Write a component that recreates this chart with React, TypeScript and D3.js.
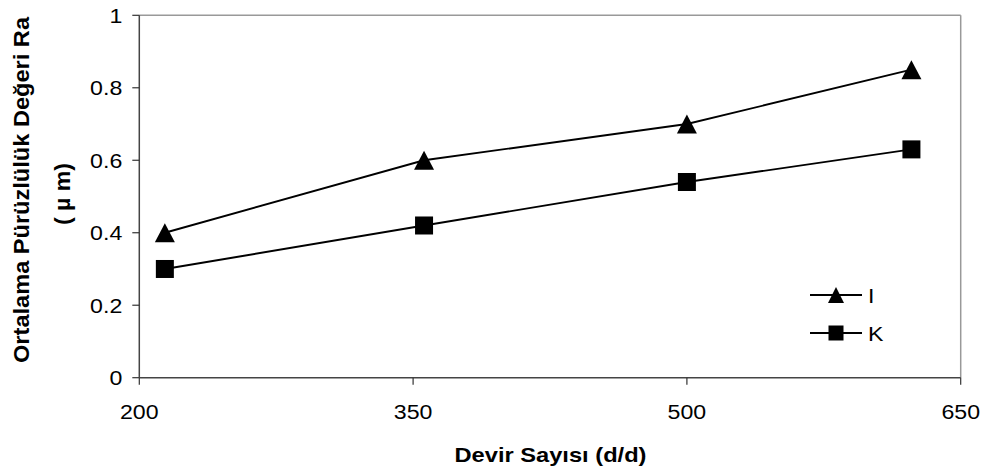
import React from "react";
import * as d3 from "d3";

const xValues = [214, 356, 500, 623];
const seriesI = [0.4, 0.6, 0.7, 0.85];
const seriesK = [0.3, 0.42, 0.54, 0.63];
const seriesNames = ["I", "K"];
const xTicks = [200, 350, 500, 650];
const yTicks = [0, 0.2, 0.4, 0.6, 0.8, 1];
const xTitle = "Devir Sayısı (d/d)";
const yTitle1 = "Ortalama Pürüzlülük Değeri  Ra";
const yTitle2 = "( µ m)";

const W = 991;
const H = 473;
const FONT = "'Liberation Sans', Arial, sans-serif";
const SX = 1.13;

const x = d3.scaleLinear().domain([200, 650]).range([139.3, 960.7]);
const y = d3.scaleLinear().domain([0, 1]).range([377.7, 15.3]);

const line = d3
  .line<[number, number]>()
  .x((d) => x(d[0]))
  .y((d) => y(d[1]));

function tri(cx: number, cy: number, w: number, h: number) {
  return `M${cx},${cy - h / 2}L${cx + w / 2},${cy + h / 2}L${cx - w / 2},${cy + h / 2}Z`;
}

export default function App() {
  const dataI: [number, number][] = xValues.map((v, i) => [v, seriesI[i]]);
  const dataK: [number, number][] = xValues.map((v, i) => [v, seriesK[i]]);
  const [x0, x1] = x.range();
  const [y0, y1] = y.range();
  return (
    <svg
      width={W}
      height={H}
      style={{ position: "absolute", left: 0, top: 0, background: "#fff" }}
      fontFamily={FONT}
    >
      <rect x={0} y={0} width={W} height={H} fill="#fff" />
      {/* plot border */}
      <line x1={x0} x2={x1} y1={y1} y2={y1} stroke="#999" strokeWidth={1.5} />
      <line x1={x1} x2={x1} y1={y1} y2={y0} stroke="#999" strokeWidth={1.5} />
      {/* axes */}
      <line x1={x0} x2={x0} y1={y1} y2={y0} stroke="#444" strokeWidth={1.5} />
      <line x1={x0} x2={x1} y1={y0} y2={y0} stroke="#444" strokeWidth={1.5} />
      {yTicks.map((t) => (
        <g key={"y" + t}>
          <line x1={x0 - 7} x2={x0} y1={y(t)} y2={y(t)} stroke="#333" strokeWidth={1.2} />
          <text
            transform={`translate(${x0 - 17},${y(t) + 7.5}) scale(${SX},1)`}
            textAnchor="end"
            fontSize={20.5}
            fill="#000"
          >
            {String(t)}
          </text>
        </g>
      ))}
      {xTicks.map((t) => (
        <g key={"x" + t}>
          <line x1={x(t)} x2={x(t)} y1={y0} y2={y0 + 7} stroke="#333" strokeWidth={1.2} />
          <text
            transform={`translate(${x(t)},${419.3}) scale(${SX},1)`}
            textAnchor="middle"
            fontSize={20.5}
            fill="#000"
          >
            {String(t)}
          </text>
        </g>
      ))}
      {/* series lines */}
      <path d={line(dataI) || ""} fill="none" stroke="#000" strokeWidth={1.9} />
      <path d={line(dataK) || ""} fill="none" stroke="#000" strokeWidth={1.9} />
      {dataI.map((d, i) => (
        <path key={"ti" + i} d={tri(x(d[0]), y(d[1]), 20, 19)} fill="#000" />
      ))}
      {dataK.map((d, i) => (
        <rect key={"sk" + i} x={x(d[0]) - 9} y={y(d[1]) - 9} width={18} height={18} fill="#000" />
      ))}
      {/* legend */}
      <line x1={810} x2={862} y1={295} y2={295} stroke="#000" strokeWidth={1.9} />
      <path d={tri(836, 295, 16, 16)} fill="#000" />
      <text transform={`translate(868,302.5) scale(${SX},1)`} fontSize={20.5} fill="#000">
        {seriesNames[0]}
      </text>
      <line x1={810} x2={862} y1={333} y2={333} stroke="#000" strokeWidth={1.9} />
      <rect x={828.5} y={325.5} width={15} height={15} fill="#000" />
      <text transform={`translate(868,340.5) scale(${SX},1)`} fontSize={20.5} fill="#000">
        {seriesNames[1]}
      </text>
      {/* titles */}
      <text
        x={550.5}
        y={461.7}
        textAnchor="middle"
        fontSize={21}
        fontWeight="bold"
        textLength={192}
        lengthAdjust="spacingAndGlyphs"
      >
        {xTitle}
      </text>
      <text
        transform={`translate(29,190) rotate(-90)`}
        textAnchor="middle"
        fontSize={22}
        fontWeight="bold"
        textLength={346}
        lengthAdjust="spacingAndGlyphs"
      >
        {yTitle1}
      </text>
      <text
        transform={`translate(70,194) rotate(-90)`}
        textAnchor="middle"
        fontSize={22}
        fontWeight="bold"
        textLength={62}
        lengthAdjust="spacingAndGlyphs"
      >
        {yTitle2}
      </text>
    </svg>
  );
}
